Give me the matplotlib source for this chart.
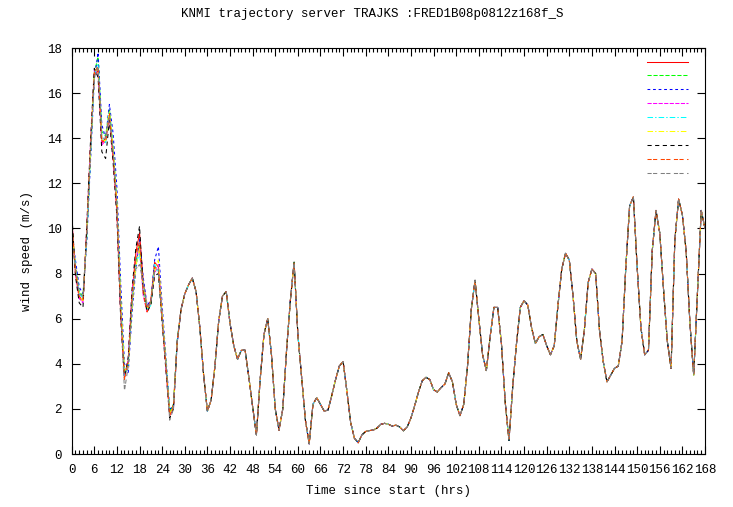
import numpy as np
import matplotlib
matplotlib.use("Agg")
import matplotlib.pyplot as plt
from matplotlib.ticker import MultipleLocator

plt.rcParams['font.family'] = ['Liberation Mono', 'DejaVu Sans Mono']
plt.rcParams['lines.scale_dashes'] = False

title = "KNMI trajectory server TRAJKS :FRED1B08p0812z168f_S"

# wind speed (m/s) per member, hours 0..28 (members still spread out)
red_early = [10.5, 8.0, 6.9, 6.8, 9.9, 13.6, 16.8, 17.0, 13.8, 14.0, 15.0, 13.2, 10.7, 6.2, 3.5,
             4.1, 7.0, 8.9, 9.8, 7.6, 6.5, 6.8, 8.5, 8.3, 6.0, 3.9, 1.8, 2.2, 5.0]
green_early = [10.0, 8.4, 7.2, 7.0, 9.6, 13.3, 16.9, 17.6, 14.3, 14.1, 15.3, 13.6, 11.1, 6.8, 3.6,
               4.0, 6.6, 8.5, 9.3, 7.2, 6.4, 6.6, 8.3, 8.2, 6.1, 4.0, 1.9, 2.2, 5.0]
blue_early = [9.8, 8.6, 7.4, 7.1, 9.4, 13.0, 16.6, 17.8, 14.6, 14.0, 15.5, 14.2, 11.8, 7.6, 4.0,
              3.6, 6.2, 8.2, 9.5, 7.8, 6.6, 6.8, 8.6, 9.2, 6.6, 4.3, 2.0, 2.1, 4.9]
magenta_early = [10.4, 8.1, 6.9, 6.7, 10.0, 13.7, 17.0, 16.9, 13.7, 13.9, 15.0, 13.1, 10.8, 6.3, 3.4,
                 4.2, 7.1, 8.7, 9.1, 7.0, 6.3, 6.7, 8.0, 8.4, 6.1, 3.8, 1.7, 2.0, 5.0]
cyan_early = [10.1, 8.3, 7.1, 6.9, 9.7, 13.4, 16.8, 17.3, 14.0, 13.8, 15.2, 13.4, 11.0, 6.6, 3.5,
              4.0, 6.8, 8.4, 8.9, 7.4, 6.4, 6.6, 8.4, 8.0, 6.0, 4.1, 1.8, 2.1, 5.1]
yellow_early = [10.3, 8.2, 7.0, 6.8, 9.9, 13.5, 16.9, 17.1, 13.9, 13.9, 15.2, 13.5, 11.2, 6.9, 3.7,
                3.8, 6.5, 8.3, 9.1, 7.5, 6.5, 6.7, 8.1, 8.6, 6.3, 4.1, 1.8, 2.1, 5.0]
black_early = [10.8, 7.9, 6.7, 6.5, 10.1, 13.9, 17.1, 16.7, 13.4, 13.1, 14.8, 12.9, 10.5, 6.0, 3.3,
               4.3, 7.3, 9.1, 10.1, 7.2, 6.3, 6.6, 7.9, 8.0, 5.8, 3.7, 1.6, 2.0, 5.0]
orange_early = [10.2, 8.2, 7.0, 6.8, 9.9, 13.6, 16.9, 17.2, 13.9, 13.8, 15.1, 13.2, 10.9, 6.4, 3.3,
                4.1, 6.9, 8.8, 9.4, 7.1, 6.3, 6.8, 8.3, 8.1, 5.9, 3.9, 1.7, 2.1, 5.0]
gray_early = [9.4, 8.3, 7.1, 7.0, 9.7, 13.4, 16.7, 17.1, 14.0, 14.0, 15.0, 13.4, 11.0, 6.4, 2.8,
              3.9, 6.6, 8.2, 8.4, 7.6, 6.5, 6.7, 8.1, 8.2, 6.0, 4.0, 1.5, 2.0, 5.0]

# hours 29..168, all members practically identical
later_speed = [6.4, 7.1, 7.5, 7.8, 7.2, 5.6, 3.5, 1.9, 2.4, 3.9,
               5.9, 7.0, 7.2, 5.8, 4.8, 4.2, 4.6, 4.6, 3.4, 2.1,
               0.85, 3.3, 5.3, 6.0, 4.4, 2.0, 1.06, 2.0, 4.6, 6.8,
               8.5, 5.3, 3.4, 1.5, 0.45, 2.2, 2.5, 2.2, 1.9, 1.95,
               2.6, 3.3, 3.9, 4.1, 2.8, 1.4, 0.7, 0.5, 0.85, 1.0,
               1.04, 1.06, 1.15, 1.32, 1.36, 1.32, 1.24, 1.28, 1.2, 1.03,
               1.2, 1.6, 2.15, 2.75, 3.25, 3.4, 3.3, 2.85, 2.75, 2.95,
               3.1, 3.6, 3.2, 2.2, 1.7, 2.2, 3.9, 6.4, 7.7, 6.0,
               4.4, 3.7, 5.2, 6.5, 6.5, 4.9, 2.3, 0.6, 3.0, 4.9,
               6.5, 6.8, 6.6, 5.6, 4.9, 5.2, 5.3, 4.8, 4.4, 4.8,
               6.6, 8.2, 8.9, 8.6, 7.0, 5.0, 4.2, 5.5, 7.6, 8.2,
               8.0, 5.5, 4.1, 3.2, 3.5, 3.8, 3.9, 5.0, 8.3, 11.0,
               11.4, 8.3, 5.6, 4.4, 4.6, 9.0, 10.8, 9.8, 7.3, 5.0,
               3.8, 9.5, 11.3, 10.6, 9.0, 5.8, 3.5, 7.2, 10.8, 10.0]

members = [red_early, green_early, blue_early, magenta_early, cyan_early,
           yellow_early, black_early, orange_early, gray_early]
colors = ['#ff0000', '#00ff00', '#0000ff', '#ff00ff', '#00ffff',
          '#ffff00', '#000000', '#ff4500', '#808080']
dashes = [(None, None), (3, 1.3), (2, 2), (3, 1), (4, 1.5, 1, 1.5),
          (4, 1.5, 1, 1.5), (3, 2.5), (3, 1, 3, 2.5), (3, 1, 3, 2.5)]

fig = plt.figure(figsize=(7.33, 5.07), dpi=100)
ax = fig.add_axes([0.0978, 0.1045, 0.864, 0.8008])

handles = []
for early, c, d in zip(members, colors, dashes):
    speed = np.array(early + later_speed)
    hours = np.arange(len(speed))
    line, = ax.plot(hours, speed, color=c, lw=0.75)
    if d[0] is not None:
        line.set_dashes(d)
    handles.append(line)

ax.set_xlim(0, 168)
ax.set_ylim(0, 18)
ax.xaxis.set_major_locator(MultipleLocator(6))
ax.xaxis.set_minor_locator(MultipleLocator(1))
ax.yaxis.set_major_locator(MultipleLocator(2))
ax.tick_params(which='both', direction='in', top=True, right=True, labelsize=9,
               width=0.8, color='black')
ax.tick_params(which='major', length=6, pad=7)
ax.tick_params(which='minor', length=3)
for s in ax.spines.values():
    s.set_linewidth(0.8)

ax.set_xlabel("Time since start (hrs)", fontsize=9, labelpad=7)
ax.set_ylabel("wind speed (m/s)", fontsize=9, labelpad=10)
fig.suptitle(title, fontsize=9, x=0.508, y=0.985)

ax.legend(handles, [' '] * 9, loc='upper left', bbox_to_anchor=(0.908, 0.978),
          frameon=False, handlelength=3.3, handletextpad=0.0, labelspacing=0.15,
          borderpad=0, borderaxespad=0, fontsize=9)

fig.savefig("out.png", dpi=100)
